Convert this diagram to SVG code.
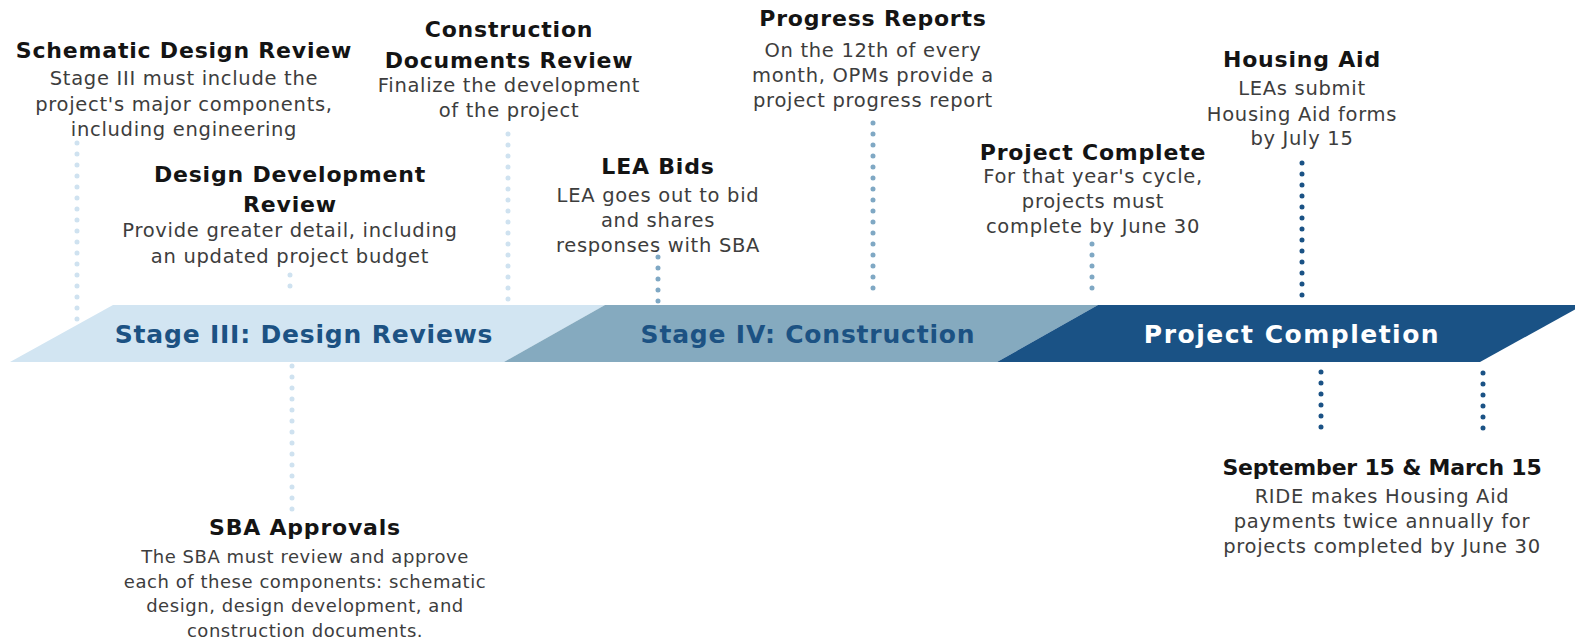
<svg xmlns="http://www.w3.org/2000/svg" width="1575" height="642" viewBox="0 0 1575 642">
<style>
.t{font-family:"DejaVu Sans","Open Sans",sans-serif;font-weight:700;font-size:22px;letter-spacing:0.8px;fill:#141414;text-anchor:middle}
.b{font-family:"DejaVu Sans","Open Sans",sans-serif;font-size:19.5px;letter-spacing:0.7px;fill:#3d3d3d;text-anchor:middle}
.s{font-size:18px;letter-spacing:0.55px}
.band{font-family:"DejaVu Sans","Open Sans",sans-serif;font-weight:700;font-size:25px;letter-spacing:0.8px;text-anchor:middle}
.d{fill:none;stroke-width:5;stroke-linecap:round;stroke-dasharray:0 11}
.d1{stroke:#cfe2f0}.d2{stroke:#7fa8c4}.d3{stroke:#1a5285}
</style>
<rect width="1575" height="642" fill="#ffffff"/>
<g id="band">
<polygon points="10,362 113,305 605,305 504,362" fill="#d2e5f2"/>
<polygon points="504,362 605,305 1098,305 997,362" fill="#85aabf"/>
<polygon points="997,362 1098,305 1583,305 1480,362" fill="#1a5285"/>
<text class="band" x="304" y="343" fill="#1c5283">Stage III: Design Reviews</text>
<text class="band" x="808" y="343" fill="#1c5283">Stage IV: Construction</text>
<text class="band" x="1292" y="343" fill="#ffffff" style="letter-spacing:1.5px">Project Completion</text>
</g>
<g id="connectors">
<line class="d d1" x1="77" y1="143" x2="77" y2="321"/>
<line class="d d1" x1="290" y1="275" x2="290" y2="297"/>
<line class="d d1" x1="508" y1="134" x2="508" y2="300"/>
<line class="d d2" x1="658" y1="257" x2="658" y2="302"/>
<line class="d d2" x1="873" y1="123" x2="873" y2="299"/>
<line class="d d2" x1="1092" y1="244" x2="1092" y2="299"/>
<line class="d d3" x1="1302" y1="163" x2="1302" y2="297"/>
<line class="d d1" x1="292" y1="366" x2="292" y2="510"/>
<line class="d d3" x1="1321" y1="372" x2="1321" y2="438"/>
<line class="d d3" x1="1483" y1="373" x2="1483" y2="439"/>
</g>
<g id="schematic">
<text class="t" x="184" y="58">Schematic Design Review</text>
<text class="b" x="184" y="85">Stage III must include the</text>
<text class="b" x="184" y="111">project's major components,</text>
<text class="b" x="184" y="136">including engineering</text>
</g>
<g id="design-development">
<text class="t" x="290" y="182">Design Development</text>
<text class="t" x="290" y="212">Review</text>
<text class="b" x="290" y="237">Provide greater detail, including</text>
<text class="b" x="290" y="263">an updated project budget</text>
</g>
<g id="construction-documents">
<text class="t" x="509" y="37">Construction</text>
<text class="t" x="509" y="68">Documents Review</text>
<text class="b" x="509" y="92">Finalize the development</text>
<text class="b" x="509" y="117">of the project</text>
</g>
<g id="lea-bids">
<text class="t" x="658" y="174">LEA Bids</text>
<text class="b" x="658" y="202">LEA goes out to bid</text>
<text class="b" x="658" y="227">and shares</text>
<text class="b" x="658" y="252">responses with SBA</text>
</g>
<g id="progress-reports">
<text class="t" x="873" y="26">Progress Reports</text>
<text class="b" x="873" y="57">On the 12th of every</text>
<text class="b" x="873" y="82">month, OPMs provide a</text>
<text class="b" x="873" y="107">project progress report</text>
</g>
<g id="project-complete">
<text class="t" x="1093" y="160">Project Complete</text>
<text class="b" x="1093" y="183">For that year's cycle,</text>
<text class="b" x="1093" y="208">projects must</text>
<text class="b" x="1093" y="233">complete by June 30</text>
</g>
<g id="housing-aid">
<text class="t" x="1302" y="67">Housing Aid</text>
<text class="b" x="1302" y="95">LEAs submit</text>
<text class="b" x="1302" y="121">Housing Aid forms</text>
<text class="b" x="1302" y="145">by July 15</text>
</g>
<g id="sba-approvals">
<text class="t" x="305" y="535">SBA Approvals</text>
<text class="b s" x="305" y="563">The SBA must review and approve</text>
<text class="b s" x="305" y="588">each of these components: schematic</text>
<text class="b s" x="305" y="612">design, design development, and</text>
<text class="b s" x="305" y="637">construction documents.</text>
</g>
<g id="payments">
<text class="t" x="1382" y="475" style="letter-spacing:-0.2px">September 15 &amp; March 15</text>
<text class="b" x="1382" y="503">RIDE makes Housing Aid</text>
<text class="b" x="1382" y="528">payments twice annually for</text>
<text class="b" x="1382" y="553">projects completed by June 30</text>
</g>
</svg>
